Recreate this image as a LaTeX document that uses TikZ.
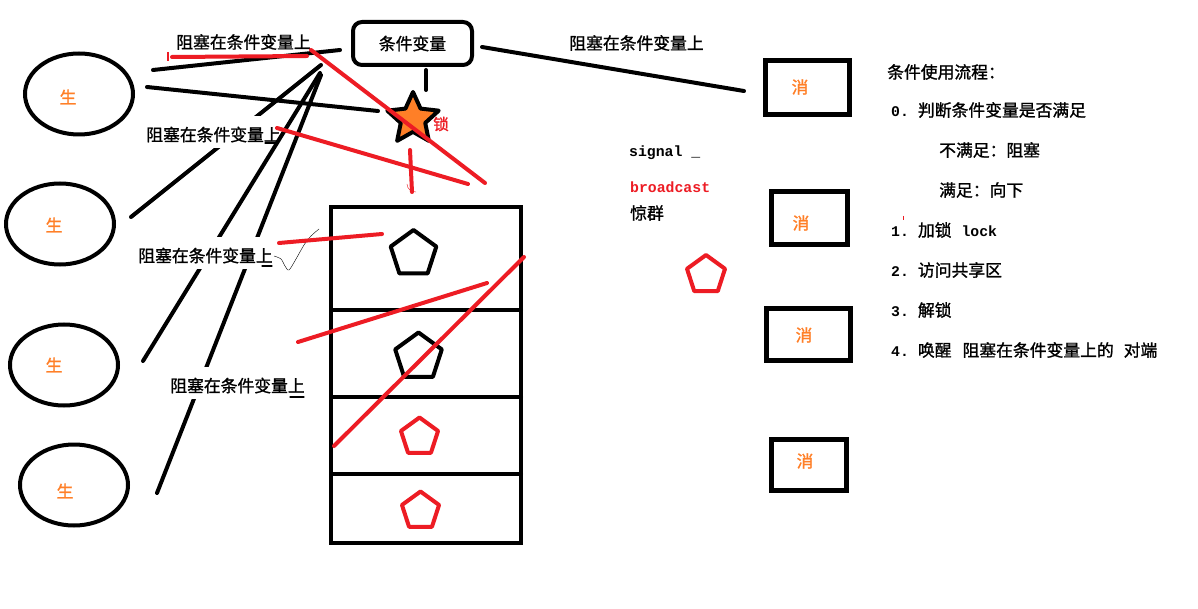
\documentclass[tikz,border=0pt]{standalone}
\usepackage{fontspec}
\setmainfont{Noto Sans CJK SC}[FakeBold=1.2]
\newfontfamily\mono{Liberation Mono}
\usepackage{xcolor}
\usetikzlibrary{shapes.geometric}

\definecolor{pred}{HTML}{ED1C24}
\definecolor{porange}{HTML}{FF7F27}

\newcommand\monotext[1]{{\mono\bfseries\fontsize{14.8}{18}\selectfont #1}}

\tikzset{
  pen/.style={line width=4pt, line cap=round},
  redpen/.style={pen, draw=pred},
  thinpen/.style={line width=1.2pt, line cap=round},
  txt/.style={inner sep=0pt, font=\fontsize{16.8}{19}\selectfont},
  cover/.style={txt, fill=white, text height=25pt, text depth=7pt, yshift=3pt},
  codetxt/.style={inner sep=0pt, anchor=west, font=\mono\bfseries\fontsize{14.8}{18}\selectfont},
  producer/.style={ellipse, draw, line width=4pt, minimum width=108pt, minimum height=81pt, inner sep=0pt},
  consumer/.style={rectangle, draw, line width=4.5pt, inner sep=0pt},
  slot/.style={regular polygon, regular polygon sides=5, draw, line width=4pt, line join=round, inner sep=0pt},
  lockstar/.style={star, star points=5, star point ratio=2.1, draw, fill=porange, line width=4pt, line join=round, minimum size=54pt, inner sep=0pt},
  condbox/.style={draw, line width=4pt, rounded corners=9pt, minimum width=119pt, minimum height=43pt, inner sep=0pt, font=\fontsize{16.8}{19}\selectfont}
}

\begin{document}
\begin{tikzpicture}[x=1pt, y=-1pt]
	\useasboundingbox (0,0) rectangle (1198,609);
	\fill[white] (0,0) rectangle (1198,609);
	
	% producers
	\foreach \n/\x/\y in {1/79/94, 2/60/224, 3/64/365, 4/74/485} {
		\node[producer] (p\n) at (\x,\y) {};
	};
	\foreach \n/\x/\y in {1/68/97, 2/54/225, 3/54/365, 4/65/491} {
		\node[txt, text=porange] (pt\n) at (\x,\y) {生};
	};
	
	% condition variable and lock
	\node[condbox] (cv) at (412.5,43.5) {条件变量};
	\node[lockstar] (lk) at (413,119) {};
	\node[txt, text=pred, font=\fontsize{15.5}{18}\selectfont] (lkt) at (441,124) {锁};
	
	% black strokes
	\draw[pen] (153,70) -- (340,50);
	\draw[pen] (147,87) -- (378,111);
	\draw[pen] (321,65) -- (131,217);
	\node[cover] (b2) at (213.5,135) {阻塞在条件变量上};
	\draw[pen] (320,73) -- (143,361);
	\draw[pen] (321,75) -- (157,493);
	\draw[pen] (482,47) -- (744,91);
	\draw[pen] (426,70) -- (426,90);
	
	% queue
	\draw[pen, line cap=butt] (331,207) rectangle (521,543);
	\foreach \y in {310,397,474} {
		\draw[pen] (331,\y) -- (521,\y);
	};
	\node[slot, minimum size=48pt] (q1) at (413.5,254) {};
	\node[slot, minimum size=49pt] (q2) at (418.5,357) {};
	\node[slot, draw=pred, minimum size=39pt] (q3) at (419.5,437) {};
	\node[slot, draw=pred, minimum size=39pt] (q4) at (420.5,511) {};
	\node[slot, draw=pred, minimum size=40pt] (q5) at (706,275) {};
	
	% consumers
	\foreach \n/\x/\y/\w/\h in {1/807.5/87.5/84/54, 2/809.5/218/76/53, 3/808.5/334.5/84/52, 4/809/465/75/51} {
		\node[consumer, minimum width=\w pt, minimum height=\h pt] (c\n) at (\x,\y) {};
	};
	\foreach \n/\x/\y in {1/800/87, 2/801/223, 3/804/335, 4/805/461} {
		\node[txt, text=porange] (ct\n) at (\x,\y) {消};
	};
	
	% labels
	\node[txt] (b1) at (243.5,42) {阻塞在条件变量上};
	\node[cover] (b3) at (205.5,256) {阻塞在条件变量上};
	\node[cover] (b4) at (237.5,386) {阻塞在条件变量上};
	\node[txt] (b5) at (636.5,43) {阻塞在条件变量上};
	\draw[thinpen] (265,143) -- (275,143);
	\draw[thinpen] (262,266) -- (272,266);
	\draw[thinpen] (290,397) -- (304,397);
	\draw[thin] plot[smooth] coordinates {(274,256) (281,259) (285,266) (289,270) (296,259) (304,245) (311,236) (319,229)};
	
	\node[codetxt] (sig) at (629,153) {signal \_};
	\node[codetxt, text=pred] (bc) at (630,187) {broadcast};
	\node[txt, anchor=west] (jq) at (630,213) {惊群};
	
	% usage steps
	\node[txt, anchor=west] (f0) at (887,72) {条件使用流程：};
	\node[txt, anchor=west] (f1) at (891,110) {\monotext{0.}\hspace{9pt}判断条件变量是否满足};
	\node[txt, anchor=west] (f2) at (939,150) {不满足：阻塞};
	\node[txt, anchor=west] (f3) at (939,190) {满足：向下};
	\node[txt, anchor=west] (f4) at (891,230) {\monotext{1.}\hspace{9pt}加锁\hspace{10pt}\monotext{lock}};
	\node[txt, anchor=west] (f5) at (891,270) {\monotext{2.}\hspace{9pt}访问共享区};
	\node[txt, anchor=west] (f6) at (891,310) {\monotext{3.}\hspace{9pt}解锁};
	\node[txt, anchor=west] (f7) at (891,350) {\monotext{4.}\hspace{9pt}唤醒\hspace{11pt}阻塞在条件变量上的\hspace{10pt}对端};
	
	% red strokes
	\draw[pred, line width=1.5pt] (168,52) -- (168,61);
	\draw[redpen] (172,57) -- (307,56);
	\draw[redpen] (311,50) -- (485,183);
	\draw[redpen] (277,128) -- (468,184);
	\draw[redpen] (410,150) -- (412,192);
	\draw[pred, thin] (407,184) to[out=-90, in=180] (416,192);
	\draw[redpen] (279,243) -- (382,234);
	\draw[redpen] (298,342) -- (487,283);
	\draw[redpen] (334,446) -- (524,257);
	\draw[pred, thin] (903,216) -- (903,220);
\end{tikzpicture}
\end{document}
